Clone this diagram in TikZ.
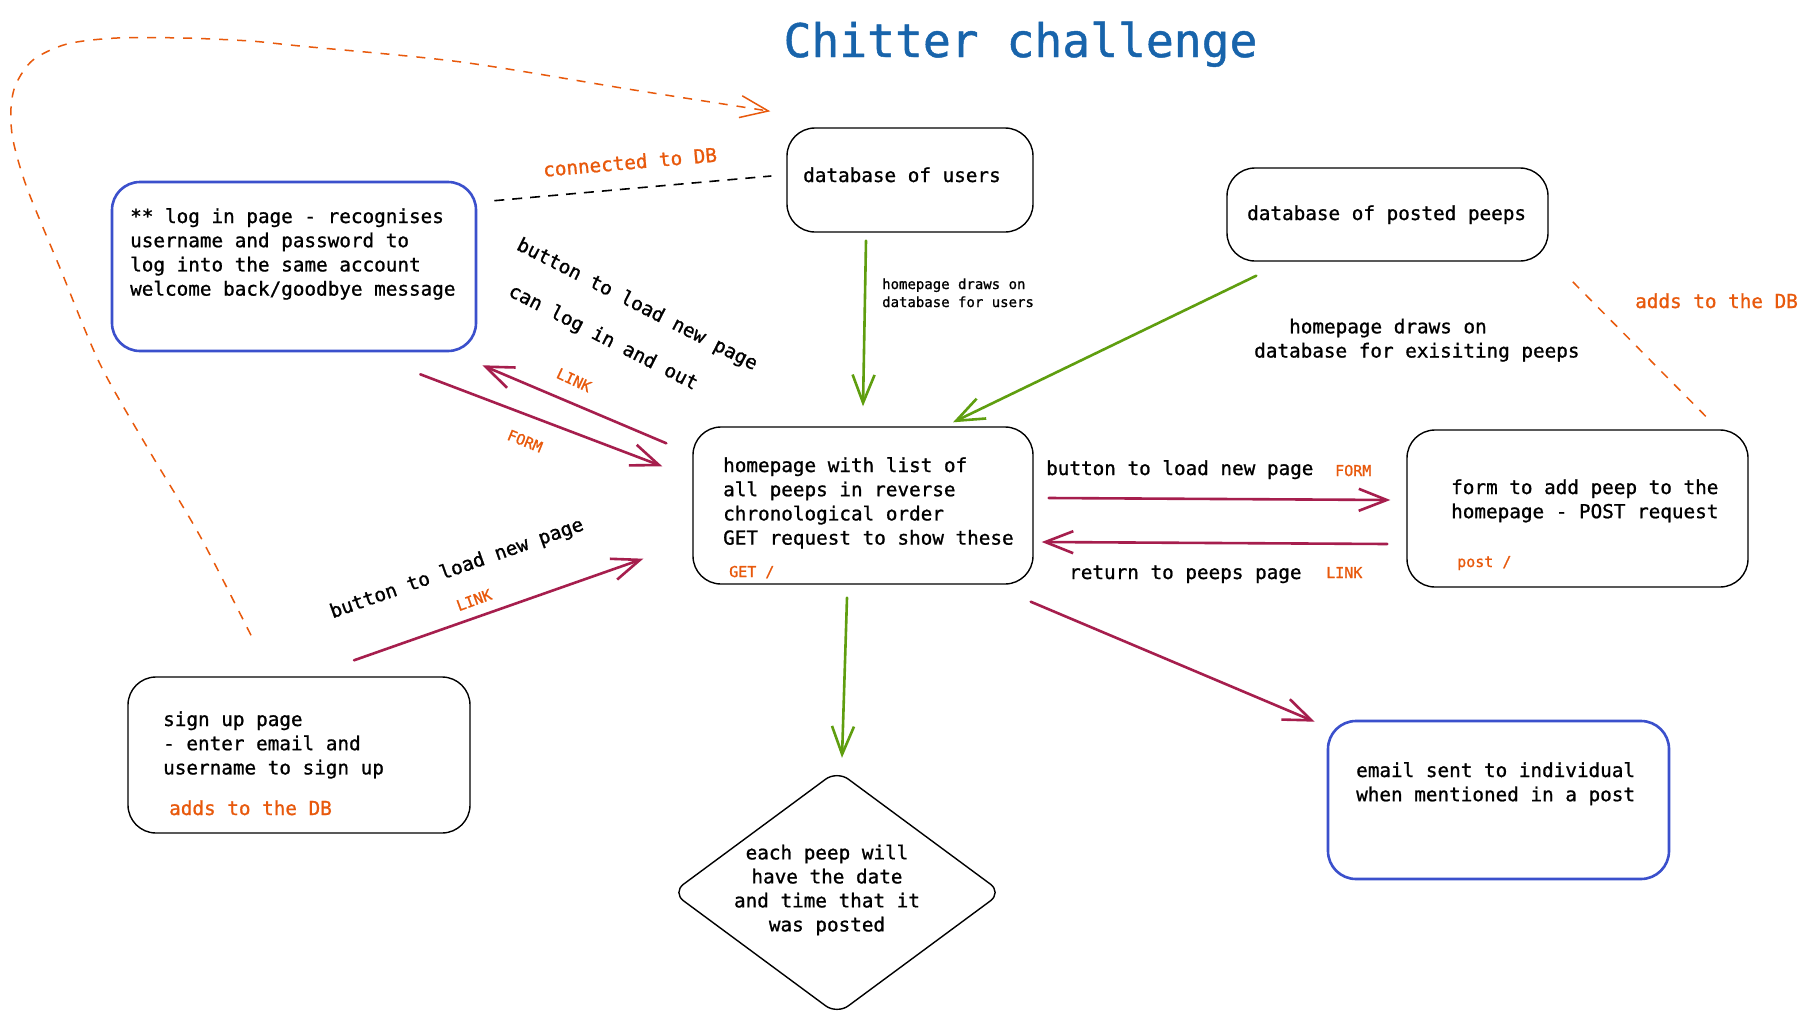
\documentclass[tikz,border=0pt]{standalone}
\usepackage{fontspec}
\setmainfont{DejaVu Sans Mono}[FakeBold=1]
\usetikzlibrary{arrows.meta,calc,shapes.geometric}
\definecolor{crim}{HTML}{A61E4D}
\definecolor{grn}{HTML}{5F9E0F}
\definecolor{orng}{HTML}{E8590C}
\definecolor{bbox}{HTML}{3B50CC}
\definecolor{ttl}{HTML}{1864AB}
\begin{document}
\begin{tikzpicture}[x=1pt,y=-1pt,
  box/.style={draw=black, line width=1.4pt, rounded corners=28pt, inner sep=0pt},
  bluebox/.style={box, draw=bbox, line width=2.6pt},
  txt/.style={inner sep=0pt, anchor=base west, align=left, font=\fontsize{19.3}{24.2}\selectfont},
  smalltxt/.style={txt, font=\fontsize{14}{18}\selectfont},
  lbl/.style={inner sep=0pt, text=orng, font=\fontsize{15}{18}\selectfont},
  olbl/.style={inner sep=0pt, text=orng, font=\fontsize{19.3}{24}\selectfont},
  rtxt/.style={inner sep=0pt, font=\fontsize{19.3}{24}\selectfont},
  barb/.style={-{Straight Barb[length=28pt,width=22pt]}},
  linkarrow/.style={draw=crim, line width=2.6pt, line cap=round, barb},
  feedarrow/.style={draw=grn, line width=2.6pt, line cap=round, barb},
  odash/.style={draw=orng, line width=1.5pt, dash pattern=on 9pt off 9pt},
  kdash/.style={draw=black, line width=1.6pt, dash pattern=on 10pt off 8pt}
]
\useasboundingbox[fill=white] (0,0) rectangle (1808,1028);

% title
\node[inner sep=0pt, anchor=base, text=ttl, font=\fontsize{46.3}{50}\selectfont] (title) at (1020.5,57) {Chitter challenge};

% boxes
\node[bluebox, minimum width=364pt, minimum height=169pt] (login) at (294,266.5) {};
\node[box, minimum width=246pt, minimum height=104pt] (dbusers) at (910,180) {};
\node[box, minimum width=321pt, minimum height=93pt] (dbpeeps) at (1387.5,214.5) {};
\node[box, minimum width=340pt, minimum height=157pt] (home) at (863,505.5) {};
\node[box, minimum width=341pt, minimum height=157pt] (form) at (1577.5,508.5) {};
\node[box, minimum width=342pt, minimum height=156pt] (signup) at (299,755) {};
\node[bluebox, minimum width=341pt, minimum height=158pt] (email) at (1498.5,800) {};
\node[draw, diamond, line width=1.4pt, rounded corners=14pt, inner sep=0pt,
      minimum width=330pt, minimum height=244pt] (peep) at (837,892.5) {};

% box texts (base = last line)
\node[txt] (logintext) at (130,295.6) {** log in page - recognises\\username and password to\\log into the same account\\welcome back/goodbye message};
\node[txt] (dbuserstext) at (803,182) {database of users};
\node[txt] (dbpeepstext) at (1247,220) {database of posted peeps};
\node[txt] (hometext) at (723,544.6) {homepage with list of\\all peeps in reverse\\chronological order\\GET request to show these};
\node[lbl, anchor=base west] (getlbl) at (729,577) {GET /};
\node[txt] (formtext) at (1451,518.2) {form to add peep to the\\homepage - POST request};
\node[lbl, anchor=base west] (postlbl) at (1457,567) {post /};
\node[txt] (signuptext) at (163,774.4) {sign up page\\- enter email and\\username to sign up};
\node[olbl, anchor=base west] (signupdb) at (169,815) {adds to the DB};
\node[txt] (emailtext) at (1356,801.2) {email sent to individual\\when mentioned in a post};
\node[inner sep=0pt, align=center, font=\fontsize{19.3}{24}\selectfont] (peeptext) at (827,890) {each peep will\\have the date\\and time that it\\was posted};

% connectors
\draw[kdash] ($(login.north east)+(17,20)$) -- ($(dbusers.west)+(-15,-4)$);
\node[olbl, rotate=5] (conlbl) at (630,162) {connected to DB};

\draw[odash, barb] plot[smooth, tension=0.5] coordinates {($(signup.north)+(-48,-41)$) (200,536) (150,452) (100,364) (60,268) (27,188) (13,140) (11,108) (16,84) (33,60) (67,44) (117,38) (183,38) (250,41) (300,46) (461,62) (634,90) ($(dbusers.north west)+(-16,-16)$)};

\draw[linkarrow] ($(home.north west)+(-26,17)$) -- ($(login.south east)+(5,13)$);
\draw[linkarrow] ($(login.south east)+(-57,22)$) -- ($(home.north west)+(-30,40)$);
\node[rtxt, rotate=-27] (btn1) at (637,305) {button to load new page};
\node[rtxt, rotate=-27] (canlog) at (603,338) {can log in and out};
\node[lbl, rotate=-25] (link1) at (574,380) {LINK};
\node[lbl, rotate=-22] (form1) at (525,441) {FORM};

\draw[linkarrow] ($(signup.north)+(55,-16)$) -- ($(home.south west)+(-49,-26)$);
\node[rtxt, rotate=19.4] (btn2) at (457,569) {button to load new page};
\node[lbl, rotate=20] (link2) at (474,600) {LINK};

\draw[linkarrow] ($(home.east)+(15,-7.5)$) -- ($(form.west)+(-16,-8.5)$);
\node[txt] (btn3) at (1046,475) {button to load new page};
\node[lbl, anchor=base west] (form3) at (1335,476) {FORM};
\draw[linkarrow] ($(form.west)+(-19,35.5)$) -- ($(home.east)+(8,36.5)$);
\node[txt] (ret) at (1069,579) {return to peeps page};
\node[lbl, anchor=base west] (link3) at (1326,578) {LINK};

\draw[linkarrow] ($(home.south east)+(-3,17)$) -- ($(email.north west)+(-12,2)$);

\draw[feedarrow] ($(dbusers.south)+(-44,8)$) -- ($(home.north)+(0,-20)$);
\node[smalltxt] (drawsusers) at (882,307) {homepage draws on\\database for users};
\draw[feedarrow] ($(dbpeeps.south west)+(30,14)$) -- ($(home.north)+(90,-4)$);
\node[txt] (drawspeeps) at (1254,357.5) {\hspace*{35pt}homepage draws on\\database for exisiting peeps};
\draw[feedarrow] ($(home.south)+(-16,13)$) -- ($(peep.north)+(5,-12)$);

\draw[odash] ($(form.north east)+(-43,-13)$) -- ($(dbpeeps.south east)+(21,17)$);
\node[olbl, anchor=base west] (addsdb) at (1635,308) {adds to the DB};
\end{tikzpicture}
\end{document}
